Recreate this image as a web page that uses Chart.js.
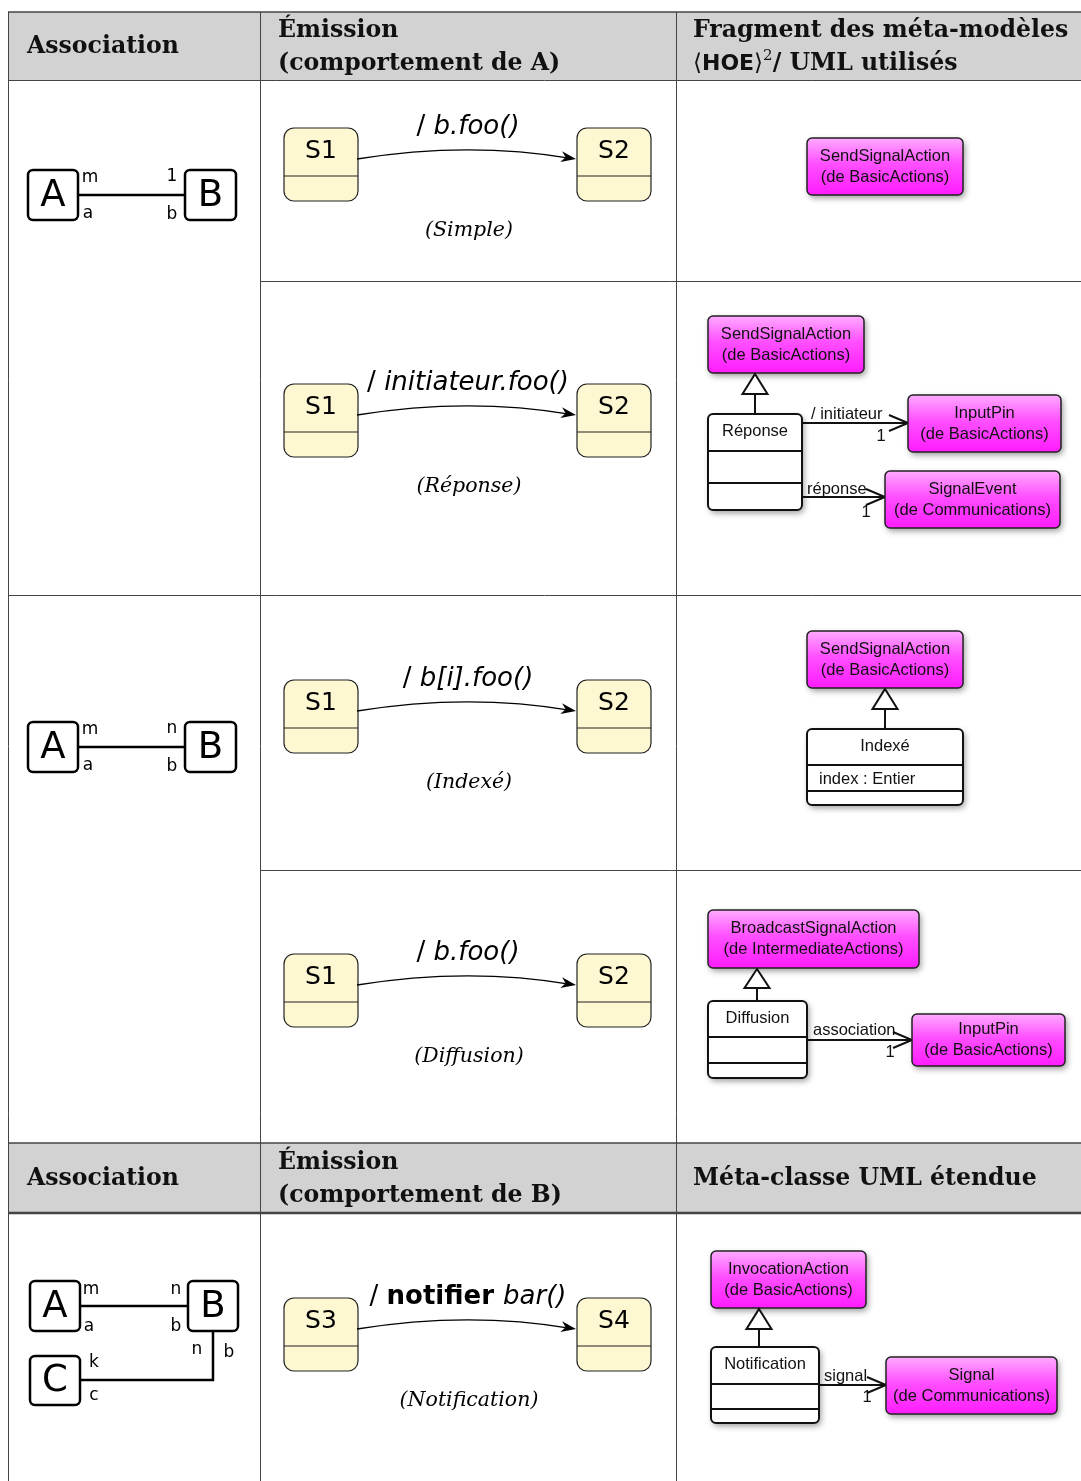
<!DOCTYPE html>
<html>
<head>
<meta charset="utf-8">
<script src="https://cdn.jsdelivr.net/npm/chart.js@4.4.0/dist/chart.umd.min.js"></script>
<style>html,body{margin:0;padding:0;background:#fff}</style>
</head>
<body>
<canvas id="c" width="1081" height="1481"></canvas>
<script>
// table texts
var header1 = ['Association', 'Émission', '(comportement de A)', 'Fragment des méta-modèles', 'UML utilisés'];
var header2 = ['Association', 'Émission', '(comportement de B)', 'Méta-classe UML étendue'];
// association column
var assocClasses = ['A', 'B', 'C'];
var assocEnds = [['m', 'a', '1', 'b'], ['m', 'a', 'n', 'b'], ['m', 'a', 'n', 'b', 'n', 'b', 'k', 'c']];
// state machine column
var stateFrom = ['S1', 'S1', 'S1', 'S1', 'S3'];
var stateTo = ['S2', 'S2', 'S2', 'S2', 'S4'];
var actions = ['b.foo()', 'initiateur.foo()', 'b[i].foo()', 'b.foo()', 'bar()'];
var captions = ['(Simple)', '(Réponse)', '(Indexé)', '(Diffusion)', '(Notification)'];
// meta-model column
var parentNames = [
    ['SendSignalAction', '(de BasicActions)'],
    ['SendSignalAction', '(de BasicActions)'],
    ['SendSignalAction', '(de BasicActions)'],
    ['BroadcastSignalAction', '(de IntermediateActions)'],
    ['InvocationAction', '(de BasicActions)']
];
var childNames = [null, 'Réponse', 'Indexé', 'Diffusion', 'Notification'];
var childAttrs = [null, '', 'index : Entier', '', ''];
var linkRoles = [[], ['/ initiateur', 'réponse'], [], ['association'], ['signal']];
var linkTargets = [[], [['InputPin', '(de BasicActions)'], ['SignalEvent', '(de Communications)']], [],
    [['InputPin', '(de BasicActions)']], [['Signal', '(de Communications)']]];
var multiplicity = '1';

var SERIF = '"DejaVu Serif", serif';
var SANS = '"DejaVu Sans", sans-serif';
var ARIAL = '"Liberation Sans", Arial, sans-serif';

function rr(ctx, x, y, w, h, r) {
    ctx.beginPath();
    ctx.moveTo(x + r, y);
    ctx.arcTo(x + w, y, x + w, y + h, r);
    ctx.arcTo(x + w, y + h, x, y + h, r);
    ctx.arcTo(x, y + h, x, y, r);
    ctx.arcTo(x, y, x + w, y, r);
    ctx.closePath();
}

function runs(ctx, parts, x, y, center) {
    var w = 0;
    parts.forEach(function (p) { ctx.font = p[1]; w += ctx.measureText(p[0]).width; });
    var cx = center ? x - w / 2 : x;
    ctx.textAlign = 'left';
    parts.forEach(function (p) {
        ctx.font = p[1];
        ctx.fillText(p[0], cx, y + (p[2] || 0));
        cx += ctx.measureText(p[0]).width;
    });
}

var tablePlugin = {
    id: 'table',
    afterDraw: function (chart) {
        var ctx = chart.ctx, sx = chart.scales.x, sy = chart.scales.y;
        var X = function (v) { return sx.getPixelForValue(v); };
        var Y = function (v) { return sy.getPixelForValue(v); };
        ctx.save();
        ctx.textBaseline = 'alphabetic';

        // header backgrounds
        ctx.fillStyle = '#d2d2d2';
        ctx.fillRect(X(8), Y(12), X(1081) - X(8), Y(80) - Y(12));
        ctx.fillRect(X(8), Y(1143), X(1081) - X(8), Y(1213) - Y(1143));

        // grid lines
        ctx.strokeStyle = '#444';
        var hl = function (y, x0, w) {
            ctx.lineWidth = w; ctx.beginPath(); ctx.moveTo(X(x0), Y(y)); ctx.lineTo(X(1081), Y(y)); ctx.stroke();
        };
        hl(12, 8, 1.5); hl(80.5, 8, 1); hl(281.5, 260, 1); hl(595.5, 8, 1); hl(870.5, 260, 1);
        hl(1143, 8, 1.5); hl(1213, 8, 2.5);
        ctx.lineWidth = 1;
        [8.5, 260.5, 676.5].forEach(function (x) {
            ctx.beginPath(); ctx.moveTo(X(x), Y(12)); ctx.lineTo(X(x), Y(1481)); ctx.stroke();
        });

        // headers
        ctx.fillStyle = '#111';
        var hb = 'bold 23.6px ' + SERIF;
        runs(ctx, [[header1[0], hb]], X(27), Y(53));
        runs(ctx, [[header1[1], hb]], X(278), Y(37));
        runs(ctx, [[header1[2], hb]], X(278), Y(70));
        runs(ctx, [[header1[3], hb]], X(693), Y(37));
        runs(ctx, [['⟨', '23px ' + SERIF], ['HOE', 'bold 22px ' + SANS], ['⟩', '23px ' + SERIF],
            ['2', '15px ' + SERIF, -10], ['/ ' + header1[4], hb]], X(693), Y(70));
        runs(ctx, [[header2[0], hb]], X(27), Y(1185));
        runs(ctx, [[header2[1], hb]], X(278), Y(1169));
        runs(ctx, [[header2[2], hb]], X(278), Y(1202));
        runs(ctx, [[header2[3], hb]], X(693), Y(1185));

        // association diagrams
        var clsBox = function (b, label) {
            ctx.fillStyle = '#fff'; ctx.strokeStyle = '#000'; ctx.lineWidth = 2.5;
            rr(ctx, X(b[0]), Y(b[1]), X(b[2]) - X(b[0]), Y(b[3]) - Y(b[1]), 5);
            ctx.fill(); ctx.stroke();
            ctx.fillStyle = '#000'; ctx.font = '37px ' + SANS; ctx.textAlign = 'center'; ctx.textBaseline = 'middle';
            ctx.fillText(label, X((b[0] + b[2]) / 2), Y((b[1] + b[3]) / 2 + 1));
        };
        var seg = function (pts, w) {
            ctx.strokeStyle = '#000'; ctx.lineWidth = w; ctx.beginPath();
            pts.forEach(function (p, i) { if (i) ctx.lineTo(X(p[0]), Y(p[1])); else ctx.moveTo(X(p[0]), Y(p[1])); });
            ctx.stroke();
        };
        var endLabel = function (t, x, y) {
            ctx.fillStyle = '#000'; ctx.font = '17px ' + SANS; ctx.textAlign = 'center'; ctx.textBaseline = 'middle';
            ctx.fillText(t, X(x), Y(y));
        };
        var assocLayouts = [
            { a: [28, 170, 78, 220], b: [185, 170, 236, 220], y: 195, ends: [[90, 178], [88, 214], [172, 177], [172, 215]] },
            { a: [28, 722, 78, 772], b: [185, 722, 236, 772], y: 747, ends: [[90, 730], [88, 766], [172, 729], [172, 767]] }
        ];
        assocLayouts.forEach(function (L, i) {
            seg([[L.a[2], L.y], [L.b[0], L.y]], 2.5);
            clsBox(L.a, assocClasses[0]); clsBox(L.b, assocClasses[1]);
            L.ends.forEach(function (e, j) { endLabel(assocEnds[i][j], e[0], e[1]); });
        });
        seg([[80, 1306], [188, 1306]], 2.5);
        seg([[80, 1380], [213, 1380], [213, 1331]], 2.5);
        clsBox([30, 1281, 80, 1331], assocClasses[0]);
        clsBox([188, 1281, 238, 1331], assocClasses[1]);
        clsBox([30, 1356, 80, 1405], assocClasses[2]);
        [[91, 1290], [89, 1327], [176, 1290], [176, 1327], [197, 1350], [229, 1353], [94, 1363], [94, 1396]]
            .forEach(function (e, j) { endLabel(assocEnds[2][j], e[0], e[1]); });

        // state machines
        var stateTops = [128, 384, 680, 954, 1298];
        var stateBox = function (x0, T, label) {
            ctx.fillStyle = '#fdf7d2'; ctx.strokeStyle = '#222'; ctx.lineWidth = 1.2;
            rr(ctx, X(x0), Y(T), X(x0 + 74) - X(x0), Y(T + 73) - Y(T), 10);
            ctx.fill(); ctx.stroke();
            ctx.beginPath(); ctx.moveTo(X(x0), Y(T + 48)); ctx.lineTo(X(x0 + 74), Y(T + 48)); ctx.stroke();
            ctx.fillStyle = '#000'; ctx.font = '25px ' + SANS; ctx.textAlign = 'center'; ctx.textBaseline = 'middle';
            ctx.fillText(label, X(x0 + 37), Y(T + 23));
        };
        stateTops.forEach(function (T, i) {
            stateBox(284, T, stateFrom[i]);
            stateBox(577, T, stateTo[i]);
            // transition
            var p0 = [357, T + 31], c = [467, T + 13], p2 = [577, T + 31];
            ctx.strokeStyle = '#000'; ctx.lineWidth = 1.3;
            ctx.beginPath(); ctx.moveTo(X(p0[0]), Y(p0[1]));
            ctx.quadraticCurveTo(X(c[0]), Y(c[1]), X(p2[0] - 6), Y(p2[1] - 0.7)); ctx.stroke();
            var dx = p2[0] - c[0], dy = p2[1] - c[1], l = Math.sqrt(dx * dx + dy * dy);
            dx /= l; dy /= l;
            var tip = [p2[0] - 1, p2[1]], L = 15, W = 5.5;
            ctx.fillStyle = '#000'; ctx.beginPath();
            ctx.moveTo(X(tip[0]), Y(tip[1]));
            ctx.lineTo(X(tip[0] - L * dx - W * dy), Y(tip[1] - L * dy + W * dx));
            ctx.lineTo(X(tip[0] - 0.7 * L * dx), Y(tip[1] - 0.7 * L * dy));
            ctx.lineTo(X(tip[0] - L * dx + W * dy), Y(tip[1] - L * dy - W * dx));
            ctx.closePath(); ctx.fill();
            // label
            ctx.textBaseline = 'alphabetic'; ctx.fillStyle = '#000';
            var parts = [['/ ', '26px ' + SANS]];
            if (i === 4) parts.push(['notifier ', 'bold 26px ' + SANS]);
            parts.push([actions[i], 'oblique 26px ' + SANS]);
            runs(ctx, parts, X(468), Y(T + 6), true);
            runs(ctx, [[captions[i], 'italic 20.5px ' + SERIF]], X(469), Y(T + 108), true);
        });

        // meta-model fragments
        var metaBox = function (b, lines) {
            ctx.save();
            ctx.shadowColor = 'rgba(0,0,0,0.4)'; ctx.shadowBlur = 6; ctx.shadowOffsetX = 2; ctx.shadowOffsetY = 3;
            var g = ctx.createLinearGradient(0, Y(b[1]), 0, Y(b[3]));
            g.addColorStop(0, '#ffaaff'); g.addColorStop(0.45, '#ff50ff'); g.addColorStop(1, '#ff1cff');
            ctx.fillStyle = g;
            rr(ctx, X(b[0]), Y(b[1]), X(b[2]) - X(b[0]), Y(b[3]) - Y(b[1]), 5);
            ctx.fill();
            ctx.restore();
            ctx.strokeStyle = '#222'; ctx.lineWidth = 1.5; ctx.stroke();
            ctx.fillStyle = '#111'; ctx.font = '16.5px ' + ARIAL; ctx.textAlign = 'center'; ctx.textBaseline = 'middle';
            var cx = X((b[0] + b[2]) / 2), cy = (b[1] + b[3]) / 2;
            ctx.fillText(lines[0], cx, Y(cy - 10.5));
            ctx.fillText(lines[1], cx, Y(cy + 10.5));
        };
        var classBox = function (b, divs, name, attr) {
            ctx.save();
            ctx.shadowColor = 'rgba(0,0,0,0.4)'; ctx.shadowBlur = 6; ctx.shadowOffsetX = 2; ctx.shadowOffsetY = 3;
            ctx.fillStyle = '#fff';
            rr(ctx, X(b[0]), Y(b[1]), X(b[2]) - X(b[0]), Y(b[3]) - Y(b[1]), 5);
            ctx.fill();
            ctx.restore();
            ctx.strokeStyle = '#111'; ctx.lineWidth = 2; ctx.stroke();
            divs.forEach(function (d) {
                ctx.beginPath(); ctx.moveTo(X(b[0]), Y(d)); ctx.lineTo(X(b[2]), Y(d)); ctx.stroke();
            });
            ctx.fillStyle = '#111'; ctx.font = '16.5px ' + ARIAL; ctx.textBaseline = 'middle'; ctx.textAlign = 'center';
            ctx.fillText(name, X((b[0] + b[2]) / 2), Y((b[1] + divs[0]) / 2 - 1));
            if (attr) { ctx.textAlign = 'left'; ctx.fillText(attr, X(b[0] + 12), Y((divs[0] + divs[1]) / 2 + 1)); }
        };
        var gen = function (x, apex, base, bottom) {
            ctx.strokeStyle = '#111'; ctx.lineWidth = 2;
            ctx.beginPath(); ctx.moveTo(X(x), Y(base)); ctx.lineTo(X(x), Y(bottom)); ctx.stroke();
            ctx.fillStyle = '#fff'; ctx.beginPath();
            ctx.moveTo(X(x), Y(apex)); ctx.lineTo(X(x + 12.5), Y(base)); ctx.lineTo(X(x - 12.5), Y(base)); ctx.closePath();
            ctx.fill(); ctx.stroke();
        };
        var link = function (x0, x1, y, role, rx, ry, mx, my) {
            ctx.strokeStyle = '#111'; ctx.lineWidth = 2;
            ctx.beginPath(); ctx.moveTo(X(x0), Y(y)); ctx.lineTo(X(x1), Y(y)); ctx.stroke();
            ctx.beginPath(); ctx.moveTo(X(x1 - 19), Y(y - 8)); ctx.lineTo(X(x1), Y(y)); ctx.lineTo(X(x1 - 19), Y(y + 8)); ctx.stroke();
            ctx.fillStyle = '#111'; ctx.font = '16.5px ' + ARIAL; ctx.textBaseline = 'middle'; ctx.textAlign = 'left';
            ctx.fillText(role, X(rx), Y(ry));
            ctx.textAlign = 'center';
            ctx.fillText(multiplicity, X(mx), Y(my));
        };
        var metaLayouts = [
            { p: [807, 138, 963, 195] },
            { p: [708, 316, 864, 373], gx: 755, apex: 374, base: 394, c: [708, 414, 802, 510], divs: [451, 483],
              links: [{ y: 423, t: [908, 395, 1061, 452], rx: 811, ry: 414, mx: 881, my: 436 },
                      { y: 497, t: [885, 471, 1060, 528], rx: 807, ry: 489, mx: 866, my: 512 }] },
            { p: [807, 631, 963, 688], gx: 885, apex: 689, base: 709, c: [807, 729, 963, 805], divs: [765, 791], links: [] },
            { p: [708, 910, 919, 968], gx: 757, apex: 969, base: 988, c: [708, 1001, 807, 1078], divs: [1037, 1063],
              links: [{ y: 1040, t: [912, 1014, 1065, 1066], rx: 813, ry: 1030, mx: 890, my: 1052 }] },
            { p: [711, 1251, 866, 1308], gx: 759, apex: 1309, base: 1329, c: [711, 1347, 819, 1423], divs: [1384, 1409],
              links: [{ y: 1385, t: [886, 1357, 1057, 1414], rx: 824, ry: 1376, mx: 867, my: 1397 }] }
        ];
        metaLayouts.forEach(function (M, i) {
            metaBox(M.p, parentNames[i]);
            if (!M.c) return;
            gen(M.gx, M.apex, M.base, M.c[1]);
            M.links.forEach(function (k, j) {
                link(M.c[2], k.t[0], k.y, linkRoles[i][j], k.rx, k.ry, k.mx, k.my);
            });
            classBox(M.c, M.divs, childNames[i], childAttrs[i]);
            M.links.forEach(function (k, j) { metaBox(k.t, linkTargets[i][j]); });
        });
        ctx.restore();
    }
};

new Chart(document.getElementById('c'), {
    type: 'scatter',
    data: { datasets: [{ data: [], pointRadius: 0 }] },
    options: {
        responsive: false,
        animation: false,
        layout: { padding: 0 },
        plugins: { legend: { display: false }, tooltip: { enabled: false } },
        scales: {
            x: { type: 'linear', min: 0, max: 1081, display: false },
            y: { type: 'linear', min: 0, max: 1481, reverse: true, display: false }
        }
    },
    plugins: [tablePlugin]
});
</script>
</body>
</html>
